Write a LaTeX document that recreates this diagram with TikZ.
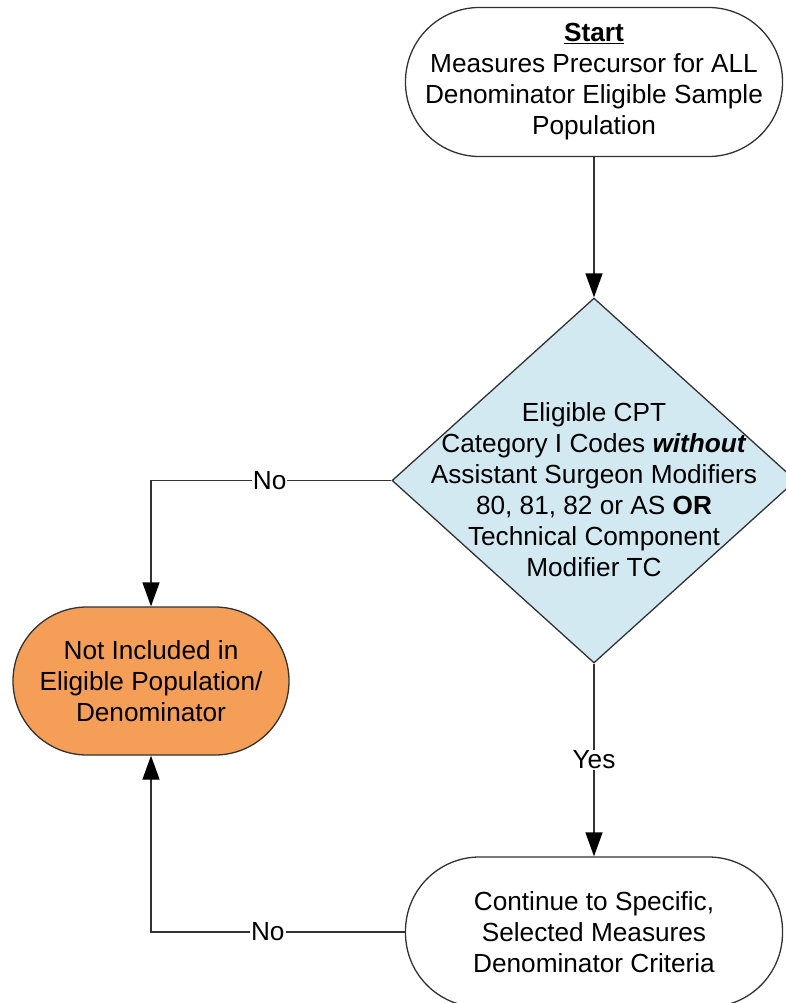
\documentclass[tikz,border=0pt]{standalone}
\usepackage{fontspec}
\setmainfont{Liberation Sans}
\usetikzlibrary{shapes.geometric,arrows.meta}
\definecolor{orangefill}{RGB}{245,158,88}
\definecolor{bluefill}{RGB}{210,233,241}
\definecolor{edgegray}{RGB}{50,50,50}
\begin{document}
\begin{tikzpicture}[x=1pt,y=-1pt,
  txt/.style={font=\fontsize{26.2}{31}\selectfont, align=center, text=black},
  term/.style={draw=edgegray, line width=1.3pt, rounded corners=74pt, minimum width=377pt, minimum height=149pt, inner sep=0pt, txt},
  dec/.style={draw=edgegray, line width=1.3pt, shape=diamond, fill=bluefill, minimum width=404pt, minimum height=365pt, inner sep=0pt},
  conn/.style={draw=edgegray, line width=1.3pt, -{Triangle[length=24pt,width=17pt,fill=black,color=black]}},
  lbl/.style={txt, fill=white, inner sep=1pt}
]
\useasboundingbox (0,0) rectangle (786,1003);
\node[term, fill=white] (start) at (594,82) {\underline{\textbf{Start}}\\Measures Precursor for ALL\\Denominator Eligible Sample\\Population};
\node[dec] (dia) at (594,480.5) {};
\node[txt] (diatext) at (594,490) {Eligible CPT\\Category I Codes \textbf{\textit{without}}\\Assistant Surgeon Modifiers\\80, 81, 82 or AS \textbf{OR}\\Technical Component\\Modifier TC};
\node[term, fill=orangefill, minimum width=276pt, minimum height=148pt] (notinc) at (151,681) {Not Included in\\Eligible Population/\\Denominator};
\node[term, fill=white, minimum height=150pt] (cont) at (594,932) {Continue to Specific,\\Selected Measures\\Denominator Criteria};
\draw[conn] (start.south) -- (dia.north);
\draw[conn] (dia.west) -| node[lbl, pos=0.253] {No} (notinc.north);
\draw[conn] (dia.south) -- node[lbl, pos=0.5] {Yes} (cont.north);
\draw[conn] (cont.west) -| node[lbl, pos=0.27] {No} (notinc.south);
\end{tikzpicture}
\end{document}
